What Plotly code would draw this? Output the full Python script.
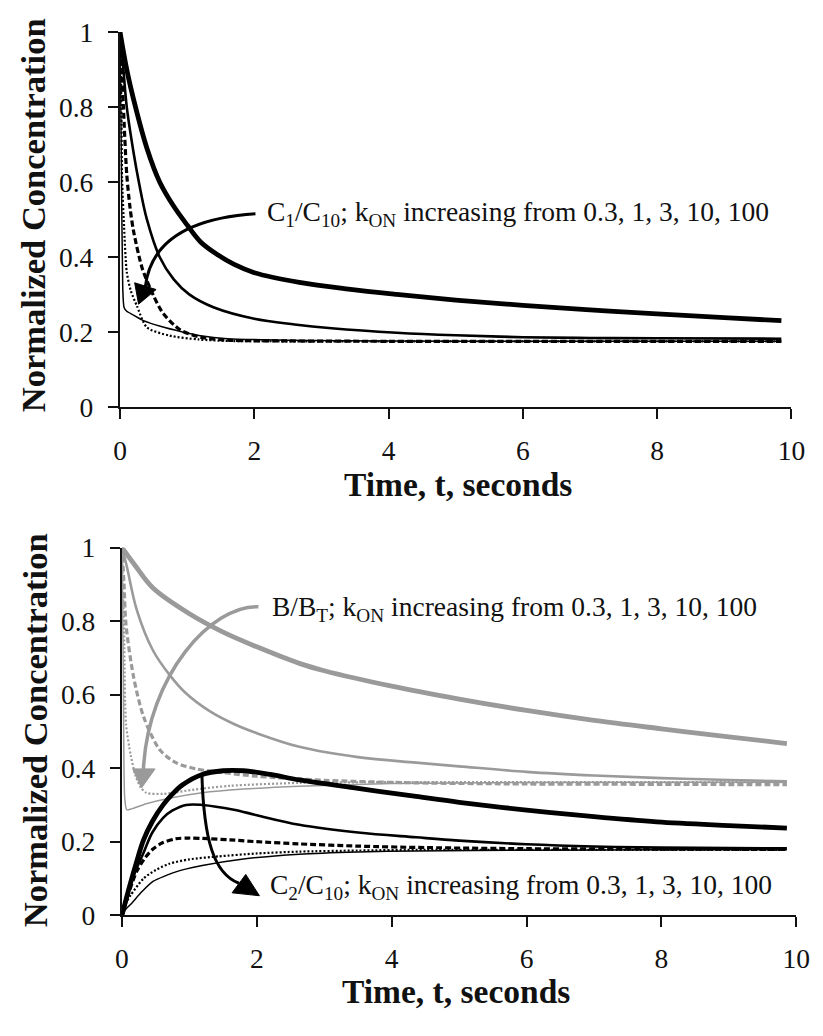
import plotly.graph_objects as go

# ---------------- data ----------------
k_labels = ["0.3", "1", "3", "10", "100"]

# Top panel: C1/C10
c1_t_03 = [0, 0.1, 0.23, 0.4, 0.59, 0.8, 1.0, 1.2, 1.46, 1.7, 2.0, 2.67, 3.4, 4.12, 5.0, 6.0, 7.0, 8.0, 9.0, 9.85]
c1_y_03 = [1, 0.9, 0.8, 0.69, 0.6, 0.535, 0.485, 0.44, 0.405, 0.38, 0.358, 0.332, 0.314, 0.30, 0.285, 0.271, 0.259, 0.248, 0.238, 0.23]
c1_t_1 = [0, 0.05, 0.1, 0.2, 0.28, 0.4, 0.59, 0.8, 1.03, 1.4, 2.0, 2.6, 3.15, 4.12, 5.0, 6.0, 7.0, 8.0, 9.85]
c1_y_1 = [1, 0.9, 0.8, 0.68, 0.6, 0.5, 0.4, 0.34, 0.30, 0.265, 0.235, 0.22, 0.21, 0.198, 0.191, 0.186, 0.184, 0.183, 0.182]
c1_t_3 = [0, 0.03, 0.05, 0.1, 0.15, 0.2, 0.33, 0.49, 0.64, 0.9, 1.2, 1.6, 2.5, 4, 6, 8, 9.85]
c1_y_3 = [1, 0.88, 0.8, 0.62, 0.53, 0.47, 0.37, 0.30, 0.25, 0.205, 0.186, 0.178, 0.176, 0.175, 0.175, 0.175, 0.175]
c1_t_10 = [0, 0.02, 0.03, 0.06, 0.1, 0.16, 0.25, 0.4, 0.74, 1.17, 1.6, 2.5, 4, 6, 8, 9.85]
c1_y_10 = [1, 0.8, 0.61, 0.48, 0.36, 0.31, 0.27, 0.212, 0.19, 0.18, 0.176, 0.175, 0.175, 0.175, 0.175, 0.175]
c1_t_100 = [0, 0.02, 0.04, 0.06, 0.1, 0.2, 0.35, 0.6, 0.93, 1.2, 1.6, 2.5, 4, 6, 8, 9.85]
c1_y_100 = [1, 0.65, 0.32, 0.265, 0.255, 0.245, 0.23, 0.215, 0.20, 0.19, 0.182, 0.178, 0.176, 0.175, 0.175, 0.175]

# Bottom panel: B/BT (grey)
b_t_03 = [0, 0.2, 0.46, 1.0, 1.5, 2.0, 2.63, 3.0, 4.0, 5.0, 6.0, 7.0, 8.0, 9.0, 9.86]
b_y_03 = [1, 0.95, 0.89, 0.82, 0.77, 0.73, 0.685, 0.665, 0.623, 0.588, 0.557, 0.53, 0.507, 0.485, 0.467]
b_t_1 = [0, 0.07, 0.22, 0.46, 0.7, 0.94, 1.3, 1.66, 2.0, 2.63, 3.5, 4.36, 5.0, 6.0, 7.0, 8.0, 9.0, 9.86]
b_y_1 = [1, 0.95, 0.83, 0.72, 0.655, 0.605, 0.555, 0.52, 0.495, 0.458, 0.43, 0.415, 0.405, 0.39, 0.38, 0.373, 0.368, 0.364]
b_t_3 = [0, 0.03, 0.06, 0.17, 0.32, 0.56, 0.8, 1.1, 1.5, 2.0, 3.0, 4.36, 6, 8, 9.86]
b_y_3 = [1, 0.9, 0.79, 0.65, 0.54, 0.45, 0.415, 0.398, 0.388, 0.378, 0.367, 0.36, 0.357, 0.356, 0.355]
b_t_10 = [0, 0.02, 0.03, 0.06, 0.13, 0.2, 0.27, 0.36, 0.61, 1.08, 1.6, 2.63, 4, 6, 8, 9.86]
b_y_10 = [1, 0.85, 0.79, 0.52, 0.435, 0.38, 0.35, 0.333, 0.33, 0.342, 0.352, 0.36, 0.362, 0.362, 0.362, 0.362]
b_t_100 = [0, 0.02, 0.04, 0.07, 0.15, 0.36, 0.7, 1.19, 1.8, 2.63, 4, 6, 8, 9.86]
b_y_100 = [1, 0.65, 0.32, 0.287, 0.29, 0.303, 0.318, 0.333, 0.343, 0.351, 0.358, 0.361, 0.362, 0.362]

# Bottom panel: C2/C10 (black)
c2_t_03 = [0, 0.1, 0.2, 0.32, 0.45, 0.61, 0.75, 0.9, 1.19, 1.5, 1.8, 2.2, 2.63, 3.5, 4.36, 5.0, 6.0, 7.0, 7.93, 9.0, 9.86]
c2_y_03 = [0, 0.07, 0.135, 0.205, 0.255, 0.30, 0.33, 0.355, 0.383, 0.393, 0.393, 0.383, 0.368, 0.345, 0.323, 0.307, 0.286, 0.268, 0.254, 0.244, 0.237]
c2_t_1 = [0, 0.1, 0.2, 0.32, 0.45, 0.61, 0.75, 0.95, 1.19, 1.66, 2.0, 2.63, 3.5, 4.36, 5.0, 6.0, 7.0, 8.0, 9.86]
c2_y_1 = [0, 0.07, 0.12, 0.17, 0.225, 0.265, 0.285, 0.30, 0.30, 0.287, 0.272, 0.246, 0.225, 0.212, 0.203, 0.193, 0.187, 0.184, 0.182]
c2_t_3 = [0, 0.1, 0.22, 0.35, 0.46, 0.6, 0.8, 1.0, 1.19, 1.6, 2.0, 2.63, 3.5, 4.5, 6, 8, 9.86]
c2_y_3 = [0, 0.06, 0.12, 0.158, 0.18, 0.197, 0.208, 0.21, 0.209, 0.205, 0.2, 0.194, 0.188, 0.184, 0.181, 0.18, 0.179]
c2_t_10 = [0, 0.05, 0.13, 0.32, 0.5, 0.7, 1.0, 1.43, 2.0, 2.63, 3.5, 4.5, 6, 8, 9.86]
c2_y_10 = [0, 0.03, 0.055, 0.10, 0.123, 0.14, 0.152, 0.16, 0.168, 0.173, 0.176, 0.178, 0.178, 0.178, 0.178]
c2_t_100 = [0, 0.05, 0.13, 0.3, 0.46, 0.8, 1.19, 1.8, 2.63, 3.5, 4.36, 6, 8, 9.86]
c2_y_100 = [0, 0.015, 0.03, 0.065, 0.092, 0.118, 0.135, 0.153, 0.166, 0.172, 0.175, 0.177, 0.178, 0.178]

x_ticks = [0, 2, 4, 6, 8, 10]
x_tick_text = ["0", "2", "4", "6", "8", "10"]
y_ticks = [0, 0.2, 0.4, 0.6, 0.8, 1]
y_tick_text = ["0", "0.2", "0.4", "0.6", "0.8", "1"]

# ---------------- styles ----------------
BLACK = "#000000"
GREY = "#9a9a9a"
styles = [  # width, dash, smoothing for kON = 0.3, 1, 3, 10, 100
    (4.8, "solid", 1.0),
    (2.6, "solid", 1.0),
    (3.2, "6px,3px", 0.8),
    (2.2, "2px,2px", 0.7),
    (1.5, "solid", 0.6),
]
FONT = "Liberation Serif"

fig = go.Figure()

def add_set(ts, ys, color, xa, ya, name):
    for (t, y), (w, d, s), k in zip(zip(ts, ys), styles, k_labels):
        fig.add_trace(go.Scatter(
            x=t, y=y, mode="lines", xaxis=xa, yaxis=ya,
            line=dict(color=color, width=w, dash=d, shape="spline", smoothing=s),
            name=f"{name}, kON={k}", showlegend=False, hoverinfo="skip"))

add_set([c1_t_03, c1_t_1, c1_t_3, c1_t_10, c1_t_100],
        [c1_y_03, c1_y_1, c1_y_3, c1_y_10, c1_y_100], BLACK, "x", "y", "C1/C10")
add_set([b_t_03, b_t_1, b_t_3, b_t_10, b_t_100],
        [b_y_03, b_y_1, b_y_3, b_y_10, b_y_100], GREY, "x2", "y2", "B/BT")
add_set([c2_t_03, c2_t_1, c2_t_3, c2_t_10, c2_t_100],
        [c2_y_03, c2_y_1, c2_y_3, c2_y_10, c2_y_100], BLACK, "x2", "y2", "C2/C10")

W, H = 823, 1036
tick_font = dict(family=FONT, size=27.5, color="#111111")
fig.update_layout(
    width=W, height=H, margin=dict(l=0, r=0, t=0, b=0),
    font=dict(family=FONT, size=27.5, color="#111111"),
    paper_bgcolor="white", plot_bgcolor="white", showlegend=False,
    xaxis=dict(domain=[116 / W, 805 / W], range=[0, 10], anchor="y"),
    yaxis=dict(domain=[1 - 404 / H, 1 - 17.5 / H], range=[0, 1], anchor="x"),
    xaxis2=dict(domain=[118 / W, 810 / W], range=[0, 10], anchor="y2"),
    yaxis2=dict(domain=[1 - 928 / H, 1 - 549 / H], range=[0, 1], anchor="x2"),
)
common = dict(showline=True, linecolor="#111111", linewidth=2, showgrid=False, zeroline=False,
              ticks="outside", ticklen=10, tickwidth=2, tickcolor="#111111", tickfont=tick_font)
fig.update_xaxes(tickmode="array", tickvals=x_ticks, ticktext=x_tick_text,
                 ticklabelstandoff=8, **common)
# small fixed-width space after the y labels pushes them away from the ticks
fig.update_yaxes(tickmode="array", tickvals=y_ticks,
                 ticktext=[s + "\u2008\u200a" for s in y_tick_text], **common)

# ---------------- annotations: texts ----------------
ann_font = dict(family=FONT, size=27.5, color="#111111")
xtitle_font = dict(family=FONT, size=33.5, color="#111111")
ytitle_font = dict(family=FONT, size=34.5, color="#111111")
tail = "; k<sub>ON</sub> increasing from 0.3, 1, 3, 10, 100"
fig.add_annotation(x=2.163, y=0.515, xref="x", yref="y", xanchor="left", yanchor="middle",
                   text="C<sub>1</sub>/C<sub>10</sub>" + tail, showarrow=False, font=ann_font)
fig.add_annotation(x=2.197, y=0.834, xref="x2", yref="y2", xanchor="left", yanchor="middle",
                   text="B/B<sub>T</sub>" + tail, showarrow=False, font=ann_font)
fig.add_annotation(x=2.168, y=0.079, xref="x2", yref="y2", xanchor="left", yanchor="middle",
                   text="C<sub>2</sub>/C<sub>10</sub>" + tail, showarrow=False, font=ann_font)

# axis titles
for xp, yp in [(463 / W, 1 - 484 / H), (461 / W, 1 - 1007 / H)]:
    fig.add_annotation(x=xp, y=yp, xref="paper", yref="paper", xanchor="center", yanchor="middle",
                       text="<b>Time, t, seconds</b>", showarrow=False, font=xtitle_font)
for xp, yp in [(26 / W, 1 - 206 / H), (29 / W, 1 - 737 / H)]:
    fig.add_annotation(x=xp, y=yp, xref="paper", yref="paper", xanchor="center", yanchor="middle",
                       text="<b>Normalized Concentration</b>", textangle=-90, showarrow=False,
                       font=ytitle_font)

# ---------------- curved arrows ----------------
def curve(xr, yr, d, color, w):
    fig.add_shape(type="path", xref=xr, yref=yr, path=d,
                  line=dict(color=color, width=w), fillcolor="rgba(0,0,0,0)")

def head(xr, yr, pts, color):
    d = "M {},{} L {},{} L {},{} Z".format(*[c for p in pts for c in p])
    fig.add_shape(type="path", xref=xr, yref=yr, path=d,
                  line=dict(color=color, width=1), fillcolor=color)

# top arrow (black)
curve("x", "y", "M 2.017,0.515 Q 0.493,0.497 0.377,0.321", BLACK, 3)
head("x", "y", [(0.218, 0.331), (0.537, 0.313), (0.276, 0.274)], BLACK)
# bottom grey arrow
curve("x2", "y2", "M 2.023,0.839 C 1.329,0.844 0.390,0.654 0.318,0.398", GREY, 3.5)
head("x2", "y2", [(0.159, 0.398), (0.491, 0.398), (0.289, 0.346)], GREY)
# bottom black arrow
curve("x2", "y2", "M 1.185,0.383 C 1.214,0.206 1.358,0.113 1.734,0.087", BLACK, 3)
head("x2", "y2", [(1.835, 0.111), (1.633, 0.061), (2.038, 0.053)], BLACK)

fig.write_html("out.html")
